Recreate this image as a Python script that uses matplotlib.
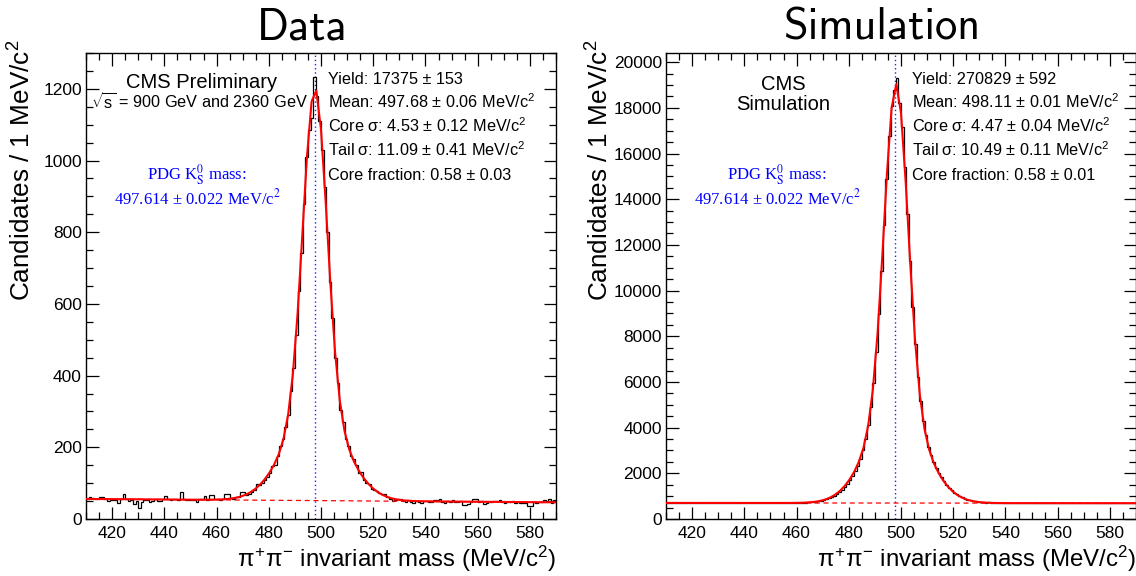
import numpy as np
import matplotlib
matplotlib.use("Agg")
import matplotlib.pyplot as plt
from matplotlib.ticker import MultipleLocator

plt.rcParams.update({
    "font.family": ["Liberation Sans", "DejaVu Sans"],
    "mathtext.fontset": "custom",
    "mathtext.rm": "Liberation Sans",
    "mathtext.it": "Liberation Sans",
    "mathtext.sf": "Liberation Sans",
    "mathtext.bf": "Liberation Sans:bold",
})

# ---------------- data ----------------
mass_low, mass_high, bin_width = 410, 590, 1
pdg_mass = 497.614

data_counts = [
    55, 60, 59, 56, 55, 62, 61, 57, 51, 52,
    54, 53, 46, 55, 70, 56, 50, 54, 42, 50,
    30, 48, 52, 54, 47, 50, 55, 51, 50, 56,
    65, 57, 54, 55, 56, 53, 74, 56, 52, 53,
    52, 53, 48, 56, 55, 65, 52, 67, 68, 55,
    56, 54, 55, 70, 70, 58, 56, 61, 62, 76,
    76, 66, 70, 74, 82, 97, 96, 100, 108, 118,
    128, 148, 152, 176, 205, 222, 258, 290, 358, 420,
    512, 635, 742, 880, 1010, 1085, 1120, 1233, 1180, 1110,
    1030, 925, 800, 660, 560, 448, 380, 305, 270, 222,
    205, 176, 168, 150, 128, 130, 108, 100, 98, 84,
    80, 78, 73, 69, 70, 60, 56, 50, 52, 56,
    55, 50, 48, 54, 47, 45, 49, 48, 46, 50,
    49, 47, 48, 52, 54, 55, 48, 46, 50, 47,
    54, 48, 47, 49, 40, 40, 41, 48, 57, 56,
    47, 49, 42, 46, 48, 47, 49, 51, 52, 47,
    46, 48, 47, 50, 46, 47, 46, 44, 44, 35,
    37, 47, 45, 48, 47, 54, 50, 56, 44, 52,
]

sim_counts = [
    712, 695, 703, 688, 707, 716, 694, 701, 690, 709,
    698, 705, 686, 711, 702, 693, 708, 699, 684, 703,
    696, 710, 701, 692, 715, 688, 706, 697, 703, 690,
    709, 699, 694, 712, 705, 691, 700, 718, 696, 707,
    702, 709, 695, 716, 703, 711, 698, 720, 707, 712,
    715, 706, 722, 716, 731, 729, 752, 755, 778, 796,
    826, 862, 905, 958, 1015, 1090, 1180, 1275, 1400, 1530,
    1690, 1870, 2080, 2330, 2640, 3010, 3490, 4100, 4920, 5960,
    7330, 8960, 10850, 12880, 14900, 16750, 18100, 18800, 19300, 18200,
    17150, 15400, 13350, 11300, 9300, 7680, 6230, 5160, 4300, 3660,
    3170, 2790, 2480, 2230, 2010, 1825, 1650, 1500, 1370, 1255,
    1160, 1075, 1000, 945, 890, 850, 822, 790, 774, 752,
    745, 733, 722, 728, 712, 716, 703, 698, 710, 701,
    694, 705, 712, 699, 690, 706, 684, 701, 697, 709,
    688, 703, 695, 707, 691, 680, 698, 702, 689, 712,
    696, 683, 705, 691, 699, 686, 703, 694, 708, 690,
    697, 684, 700, 705, 689, 698, 681, 702, 694, 687,
    695, 706, 688, 699, 684, 710, 692, 701, 686, 703,
]

# fit results (double gaussian + linear background)
data_fit = dict(yld=17375, mean=497.68, s_core=4.53, s_tail=11.09, f_core=0.58,
                bkg_lo=56.0, bkg_hi=46.5)
sim_fit = dict(yld=270829, mean=498.11, s_core=4.47, s_tail=10.49, f_core=0.58,
               bkg_lo=705.0, bkg_hi=692.0)

data_lines = ["Yield: 17375 \u00b1 153",
              "Mean: 497.68 \u00b1 0.06 MeV/c$^{2}$",
              "Core \u03c3: 4.53 \u00b1 0.12 MeV/c$^{2}$",
              "Tail\u2009\u03c3: 11.09 \u00b1 0.41 MeV/c$^{2}$",
              "Core fraction: 0.58 \u00b1 0.03"]
sim_lines = ["Yield: 270829 \u00b1 592",
             "Mean: 498.11 \u00b1 0.01 MeV/c$^{2}$",
             "Core \u03c3: 4.47 \u00b1 0.04 MeV/c$^{2}$",
             "Tail\u2009\u03c3: 10.49 \u00b1 0.11 MeV/c$^{2}$",
             "Core fraction: 0.58 \u00b1 0.01"]

W, H = 1136, 576
fig = plt.figure(figsize=(W / 100, H / 100), dpi=100)


def fx(px):
    return px / W


def fy(py):
    return 1 - py / H


def gauss(x, m, s):
    return np.exp(-0.5 * ((x - m) / s) ** 2) / (s * np.sqrt(2 * np.pi))


def fit_curve(x, p):
    bkg = p["bkg_lo"] + (p["bkg_hi"] - p["bkg_lo"]) * (x - mass_low) / (mass_high - mass_low)
    sig = p["yld"] * bin_width * (p["f_core"] * gauss(x, p["mean"], p["s_core"])
                                  + (1 - p["f_core"]) * gauss(x, p["mean"], p["s_tail"]))
    return bkg + sig


edges = np.arange(mass_low, mass_high + bin_width, bin_width)

panels = [
    dict(left=86, counts=data_counts, fit=data_fit, ymax=1300, major=200, minor=50,
         title="Data", title_x=302, lines=data_lines, box_x=328,
         label1=("CMS Preliminary", 202, 88.5, 14.5),
         label2=("$\\sqrt{s}$ = 900 GeV and 2360 GeV", 199, 108.5, 11.7),
         pdg_x=197, ylab_x=22),
    dict(left=666, counts=sim_counts, fit=sim_fit, ymax=20400, major=2000, minor=500,
         title="Simulation", title_x=882, lines=sim_lines, box_x=912,
         label1=("CMS", 783, 89.5, 14.5),
         label2=("Simulation", 783, 110.5, 14.5),
         pdg_x=777, ylab_x=600),
]

ax_top, ax_bot, ax_w = 53, 519, 470

for p in panels:
    ax = fig.add_axes([fx(p["left"]), fy(ax_bot), fx(ax_w), (ax_bot - ax_top) / H])
    ax.set_xlim(mass_low, mass_high)
    ax.set_ylim(0, p["ymax"])

    ax.axvline(pdg_mass, color="#2020ff", ls=(0, (1, 2)), lw=1.0, zorder=1)
    ax.stairs(p["counts"], edges, baseline=None, color="black", lw=0.9, zorder=2)
    xf = np.linspace(mass_low, mass_high, 101)
    fp = p["fit"]
    ax.plot([mass_low, mass_high], [fp["bkg_lo"], fp["bkg_hi"]], color="red",
            lw=0.9, ls=(0, (4, 3)), zorder=3)
    ax.plot(xf, fit_curve(xf, fp), color="red", lw=1.5, zorder=4)

    ax.xaxis.set_major_locator(MultipleLocator(20))
    ax.xaxis.set_minor_locator(MultipleLocator(5))
    ax.yaxis.set_major_locator(MultipleLocator(p["major"]))
    ax.yaxis.set_minor_locator(MultipleLocator(p["minor"]))
    ax.tick_params(which="both", direction="in", top=True, right=True, width=0.9,
                   labelsize=12.5)
    ax.tick_params(which="major", length=9)
    ax.tick_params(which="minor", length=5)
    ax.tick_params(axis="x", pad=5)
    ax.tick_params(axis="y", pad=3)
    for s in ax.spines.values():
        s.set_linewidth(1.0)

    fig.text(fx(p["title_x"]), fy(40), p["title"], family="cmss10", fontsize=32,
             ha="center", va="baseline")

    for i, line in enumerate(p["lines"]):
        fig.text(fx(p["box_x"]), fy(83.5 + 24.1 * i), line, fontsize=11.7,
                 ha="left", va="baseline")

    t, x0, y0, fs = p["label1"]
    fig.text(fx(x0), fy(y0), t, fontsize=fs, ha="center", va="baseline")
    t, x0, y0, fs = p["label2"]
    fig.text(fx(x0), fy(y0), t, fontsize=fs, ha="center", va="baseline")

    fig.text(fx(p["pdg_x"]), fy(180), "PDG K$_{\\rm S}^{0}$ mass:", color="blue",
             family="Liberation Serif", fontsize=12, ha="center", va="baseline",
             math_fontfamily="stix")
    fig.text(fx(p["pdg_x"]), fy(204), "497.614 \u00b1 0.022 MeV/c$^{2}$", color="blue",
             family="Liberation Serif", fontsize=12, ha="center", va="baseline",
             math_fontfamily="stix")

    fig.text(fx(p["ylab_x"]), fy(40), "Candidates / 1 MeV/c$^{2}$", fontsize=18.8,
             rotation=90, ha="center", va="top")
    fig.text(fx(p["left"] + ax_w), fy(567), "$\\pi^{+}\\pi^{-}$ invariant mass (MeV/c$^{2}$)",
             fontsize=17.3, ha="right", va="baseline")

fig.savefig("out.png", dpi=100)
